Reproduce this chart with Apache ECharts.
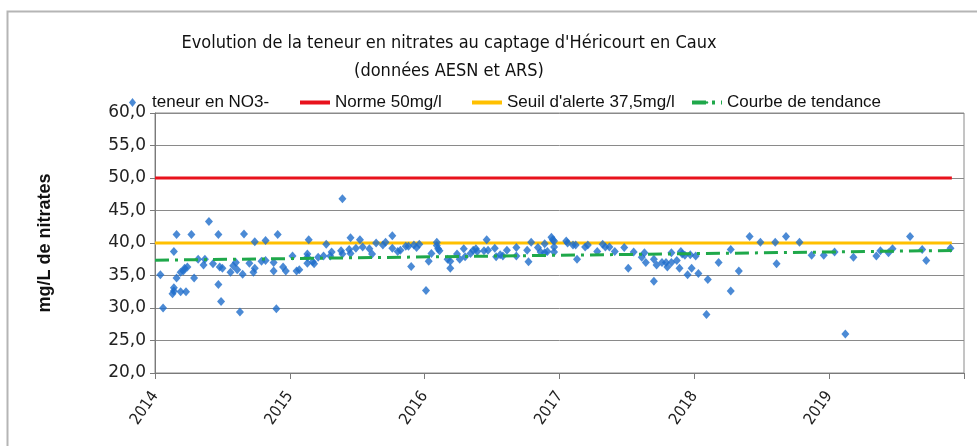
<!DOCTYPE html>
<html>
<head>
<meta charset="utf-8">
<script src="https://cdn.jsdelivr.net/npm/echarts@6/dist/echarts.min.js"></script>
<style>html,body{margin:0;padding:0;background:#fff}#c{width:977px;height:446px}</style>
</head>
<body>
<div id="c"></div>
<script>
// Sample dates (decimal years) and nitrate values (mg/L)
const dates = [
2014.04,2014.06,2014.14,2014.16,2014.14,2014.14,2014.13,2014.16,2014.19,2014.23,
2014.19,2014.21,2014.22,2014.24,2014.27,2014.29,2014.32,2014.36,2014.37,2014.40,
2014.43,2014.47,2014.47,2014.48,2014.50,2014.49,2014.56,2014.58,2014.60,2014.61,
2014.63,2014.65,2014.66,2014.70,2014.73,2014.74,2014.74,2014.79,2014.82,2014.82,
2014.88,2014.88,2014.90,2014.91,2014.95,2014.97,2015.02,2015.05,2015.07,2015.13,
2015.13,2015.14,2015.13,2015.17,2015.18,2015.21,2015.25,2015.27,2015.30,2015.31,
2015.38,2015.39,2015.39,2015.44,2015.45,2015.45,2015.49,2015.52,2015.54,2015.59,
2015.61,2015.64,2015.69,2015.71,
2015.76,2015.76,2015.80,2015.82,2015.86,2015.88,2015.90,2015.92,2015.94,2015.96,
2016.01,2016.03,2016.05,2016.09,2016.09,2016.10,2016.11,2016.17,2016.19,2016.19,
2016.24,2016.26,2016.29,2016.30,2016.34,2016.36,2016.38,2016.39,2016.44,2016.46,
2016.47,2016.52,2016.53,2016.56,2016.58,
2016.61,2016.68,2016.68,2016.76,2016.77,2016.79,2016.84,2016.86,2016.89,2016.89,
2016.91,2016.94,2016.95,2016.96,2016.96,2016.96,2017.05,2017.06,2017.10,2017.12,
2017.13,2017.19,2017.21,2017.28,2017.32,2017.34,2017.37,2017.41,
2017.48,2017.51,2017.55,2017.61,2017.63,2017.64,2017.70,2017.70,2017.72,2017.76,
2017.79,2017.80,2017.83,2017.83,2017.87,2017.89,2017.90,2017.91,2017.93,2017.95,
2017.97,2017.98,2018.01,2018.03,2018.09,2018.10,2018.18,2018.27,2018.27,2018.33,
2018.41,2018.49,2018.60,2018.61,2018.68,2018.78,2018.87,2018.96,2019.04,2019.12,
2019.18,
2019.35,2019.38,2019.44,2019.47,2019.60,2019.69,2019.72,2019.90
];
const nitrates = [
35.1,30.0,38.7,41.3,33.1,32.6,32.2,34.6,32.5,32.5,
35.5,35.7,36.1,36.3,41.3,34.6,37.5,36.6,37.5,43.3,
36.8,41.3,33.6,36.3,36.1,31.0,35.5,36.5,37.0,35.9,
29.4,35.2,41.4,36.9,35.5,36.1,40.2,37.2,40.4,37.3,
35.7,37.0,29.9,41.3,36.3,35.7,38.0,35.7,35.9,38.3,
37.8,40.5,36.9,37.1,36.8,37.8,38.0,39.8,38.0,38.6,
38.8,38.3,46.8,39.0,38.4,40.8,39.2,40.5,39.4,39.1,
38.3,40.0,39.7,40.1,
41.1,39.2,38.7,38.9,39.5,39.5,36.4,39.7,39.3,39.8,
32.7,37.2,38.4,40.1,39.6,39.1,38.8,37.5,37.2,36.1,
38.3,37.5,39.1,37.9,38.4,38.9,39.1,38.7,38.8,40.5,
38.9,39.2,37.9,38.2,38.0,
38.9,39.3,38.0,38.9,37.1,40.1,39.3,38.6,39.9,38.5,
38.7,40.9,40.5,40.3,39.4,38.6,40.3,40.0,39.7,39.7,
37.5,39.4,39.7,38.7,39.8,39.4,39.4,38.7,
39.3,36.1,38.6,37.8,38.5,37.0,37.5,34.1,36.6,37.0,
37.0,36.3,37.0,38.5,37.3,36.1,38.7,38.3,38.1,35.1,
38.2,36.1,38.0,35.3,29.0,34.4,37.0,39.0,32.6,35.7,
41.0,40.1,40.1,36.8,41.0,40.1,38.1,38.1,38.6,26.0,
37.8,
38.0,38.8,38.5,39.1,41.0,39.0,37.3,39.2
];
// Reference lines and trend (start/end)
const refDates = [2014.0, 2019.91];
const normeValues = [50, 50];
const seuilValues = [40, 40];
const trendValues = [37.35, 38.85];
const yearTicks = [2014, 2015, 2016, 2017, 2018, 2019];

const seriesNames = ['teneur en NO3-', 'Norme 50mg/l', "Seuil d'alerte 37,5mg/l", 'Courbe de tendance'];

const zip = (xs, ys) => xs.map((x, i) => [x, ys[i]]);
const legendFont = { fontFamily: "'Liberation Sans', Arial, sans-serif", fontSize: 17, color: '#111' };
const narrow = "'Liberation Sans Narrow', 'DejaVu Sans Condensed', 'Liberation Sans', sans-serif";
const lineLegend = (name, left) => ({
  data: [name], left: left, top: 89, itemWidth: 30, itemHeight: 3,
  lineStyle: { width: 4 }, textStyle: legendFont
});

const chart = echarts.init(document.getElementById('c'), null, { renderer: 'canvas' });
chart.setOption({
  animation: false,
  backgroundColor: '#fff',
  graphic: [{
    type: 'rect', left: 5, top: 9, shape: { width: 1000, height: 500 },
    style: { fill: 'none', stroke: '#b5b5b5', lineWidth: 2 }, silent: true
  }],
  title: {
    text: "Evolution de la teneur en nitrates au captage d'Héricourt en Caux\n(données AESN et ARS)",
    left: 444, top: 24, textAlign: 'center',
    textStyle: { fontFamily: narrow, fontSize: 18, fontWeight: 'normal', color: '#111', lineHeight: 28 }
  },
  legend: [
    { data: [{ name: seriesNames[0], icon: 'diamond' }], left: 124, top: 89, itemWidth: 7, itemHeight: 9,
      textStyle: Object.assign({ padding: [0, 0, 0, 11] }, legendFont) },
    lineLegend(seriesNames[1], 293),
    lineLegend(seriesNames[2], 465),
    lineLegend(seriesNames[3], 685)
  ],
  grid: { left: 155, right: 13, top: 113, bottom: 73, show: true, borderColor: '#8a8a8a', borderWidth: 1 },
  xAxis: {
    type: 'value', min: 2014, max: 2020, interval: 1,
    axisLine: { lineStyle: { color: '#7a7a7a', width: 1 } },
    axisTick: { show: true, length: 6, lineStyle: { color: '#7a7a7a' } },
    splitLine: { show: false },
    axisLabel: {
      rotate: 55, margin: 20, color: '#222', fontSize: 16, fontFamily: narrow,
      formatter: v => (yearTicks.indexOf(v) >= 0 ? String(v) : '')
    }
  },
  yAxis: {
    type: 'value', min: 20, max: 60, interval: 5,
    name: 'mg/L de nitrates', nameLocation: 'middle', nameRotate: 90, nameGap: 101,
    nameTextStyle: { fontFamily: "'Liberation Sans', Arial, sans-serif", fontSize: 18, fontWeight: 'bold', color: '#111' },
    axisLine: { show: true, lineStyle: { color: '#7a7a7a', width: 1 } },
    axisTick: { show: true, length: 5, lineStyle: { color: '#7a7a7a' } },
    splitLine: { show: true, lineStyle: { color: '#8a8a8a', width: 1 } },
    axisLabel: {
      color: '#222', fontSize: 17, fontFamily: "'DejaVu Sans', sans-serif", margin: 9,
      formatter: v => v.toFixed(1).replace('.', ',')
    }
  },
  series: [
    { name: seriesNames[0], type: 'scatter', data: zip(dates, nitrates), symbol: 'diamond', symbolSize: [8, 9],
      itemStyle: { color: '#1E6DCB' }, z: 2 },
    { name: seriesNames[1], type: 'line', data: zip(refDates, normeValues), symbol: 'none',
      lineStyle: { color: '#E8121C', width: 3 }, itemStyle: { color: '#E8121C' }, z: 3 },
    { name: seriesNames[2], type: 'line', data: zip(refDates, seuilValues), symbol: 'none',
      lineStyle: { color: '#FFC000', width: 3 }, itemStyle: { color: '#FFC000' }, z: 1 },
    { name: seriesNames[3], type: 'line', data: zip(refDates, trendValues), symbol: 'none',
      lineStyle: { color: '#1FA84A', width: 3, type: [14, 6, 3, 6] }, itemStyle: { color: '#1FA84A' }, z: 3 }
  ]
});
</script>
</body>
</html>
